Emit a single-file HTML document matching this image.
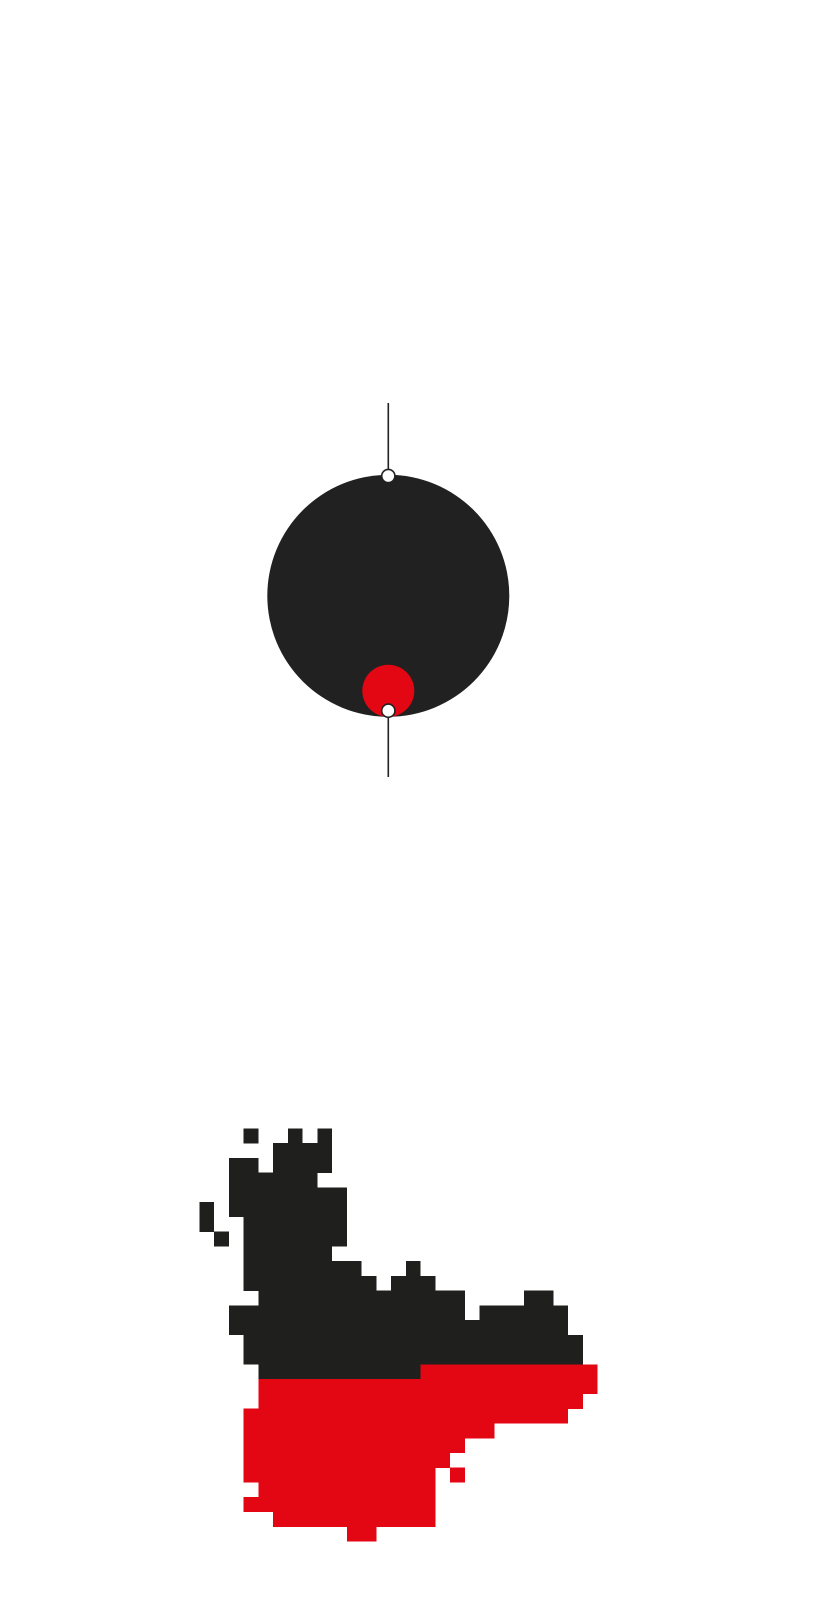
<!DOCTYPE html>
<html><head><meta charset="utf-8"><style>
html,body{margin:0;padding:0;background:#fff;}
svg{display:block;}
</style></head><body>
<svg width="830" height="1616" viewBox="0 0 830 1616" xmlns="http://www.w3.org/2000/svg">
<rect width="830" height="1616" fill="#fff"/>
<!-- connector lines -->
<line x1="388.3" y1="403" x2="388.3" y2="476" stroke="#222" stroke-width="1.6"/>
<line x1="388.3" y1="711" x2="388.3" y2="777" stroke="#222" stroke-width="1.6"/>
<circle cx="388.3" cy="595.8" r="121" fill="#212121"/>
<circle cx="388.3" cy="690.8" r="26" fill="#e30613"/>
<circle cx="388.3" cy="476" r="6.6" fill="#fff" stroke="#222" stroke-width="1.6"/>
<circle cx="388.3" cy="710.7" r="6.6" fill="#fff" stroke="#222" stroke-width="1.6"/>
<g transform="translate(199.3,1128.3) scale(14.75)" shape-rendering="crispEdges">
<g fill="#1f1f1e">
<rect x="3" y="0" width="1" height="1.02"/><rect x="6" y="0" width="1" height="1.02"/><rect x="8" y="0" width="1" height="1.02"/>
<rect x="5" y="1" width="4" height="1.02"/>
<rect x="2" y="2" width="2" height="1.02"/><rect x="5" y="2" width="4" height="1.02"/>
<rect x="2" y="3" width="6" height="1.02"/>
<rect x="2" y="4" width="8" height="1.02"/>
<rect x="0" y="5" width="1" height="1.02"/><rect x="2" y="5" width="8" height="1.02"/>
<rect x="0" y="6" width="1" height="1.02"/><rect x="3" y="6" width="7" height="1.02"/>
<rect x="1" y="7" width="1" height="1.02"/><rect x="3" y="7" width="7" height="1.02"/>
<rect x="3" y="8" width="6" height="1.02"/>
<rect x="3" y="9" width="8" height="1.02"/><rect x="14" y="9" width="1" height="1.02"/>
<rect x="3" y="10" width="9" height="1.02"/><rect x="13" y="10" width="3" height="1.02"/>
<rect x="4" y="11" width="14" height="1.02"/><rect x="22" y="11" width="2" height="1.02"/>
<rect x="2" y="12" width="16" height="1.02"/><rect x="19" y="12" width="6" height="1.02"/>
<rect x="2" y="13" width="23" height="1.02"/>
<rect x="3" y="14" width="23" height="2.02"/>
<rect x="4" y="16" width="11" height="1"/>
</g>
<g fill="#e30613">
<rect x="15" y="16" width="12" height="1.02"/>
<rect x="4" y="17" width="23" height="1.02"/>
<rect x="4" y="18" width="22" height="1.02"/>
<rect x="3" y="19" width="22" height="1.02"/>
<rect x="3" y="20" width="17" height="1.02"/>
<rect x="3" y="21" width="15" height="1.02"/>
<rect x="3" y="22" width="14" height="1.02"/>
<rect x="3" y="23" width="13" height="1.02"/><rect x="17" y="23" width="1" height="1"/>
<rect x="4" y="24" width="12" height="1.02"/>
<rect x="3" y="25" width="13" height="1.02"/>
<rect x="5" y="26" width="11" height="1.02"/>
<rect x="10" y="27" width="2" height="1"/>
</g>
</g>
</svg>
</body></html>
